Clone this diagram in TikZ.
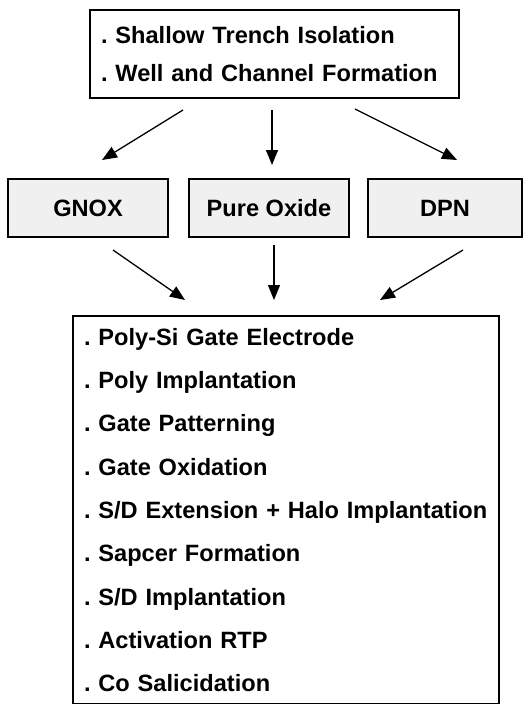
\documentclass[tikz,border=0pt]{standalone}
\usepackage{fontspec}
\setmainfont{Liberation Sans}
\usetikzlibrary{arrows.meta}
\frenchspacing
\tikzstyle{listbox} = [rectangle, draw=black, line width=1.6pt, align=left, inner sep=0pt, font=\bfseries\fontsize{23.6}{38}\selectfont]
\tikzstyle{oxide} = [rectangle, draw=black, line width=1.6pt, fill=black!6, minimum width=160pt, minimum height=58pt, inner sep=0pt, font=\bfseries\fontsize{23.6}{28}\selectfont]
\tikzstyle{arrow} = [line width=1.3pt, -{Triangle[length=15pt,width=12pt]}]

\begin{document}
\begin{tikzpicture}[x=1pt,y=-1pt]
\useasboundingbox (0,0) rectangle (530,704);

\node (front) [listbox, minimum width=369pt, minimum height=88pt, text width=347pt] at (274.5,54) {. Shallow Trench Isolation\\. Well and Channel Formation};
\node (gnox) [oxide] at (88,208) {GNOX};
\node (pure) [oxide] at (269,208) {Pure Oxide};
\node (dpn) [oxide, minimum width=154pt] at (445,208) {DPN};
\node (back) [listbox, minimum width=426pt, minimum height=388pt, text width=404pt, font=\bfseries\fontsize{23.6}{43.3}\selectfont] at (286,510) {. Poly-Si Gate Electrode\\. Poly Implantation\\. Gate Patterning\\. Gate Oxidation\\. S/D Extension + Halo Implantation\\. Sapcer Formation\\. S/D Implantation\\. Activation RTP\\. Co Salicidation};

% free arrow ends
\coordinate (f1) at (183,110);
\coordinate (f2) at (272,110);
\coordinate (f3) at (355,109);
\coordinate (g1) at (102,160);
\coordinate (g2) at (272,165);
\coordinate (g3) at (457,160);
\coordinate (b1) at (113,250);
\coordinate (b2) at (274,245);
\coordinate (b3) at (463,250);
\coordinate (c1) at (185,300);
\coordinate (c2) at (274,300);
\coordinate (c3) at (380,300);

\draw [arrow] (f1) -- (g1);
\draw [arrow] (f2) -- (g2);
\draw [arrow] (f3) -- (g3);
\draw [arrow] (b1) -- (c1);
\draw [arrow] (b2) -- (c2);
\draw [arrow] (b3) -- (c3);

\end{tikzpicture}
\end{document}
